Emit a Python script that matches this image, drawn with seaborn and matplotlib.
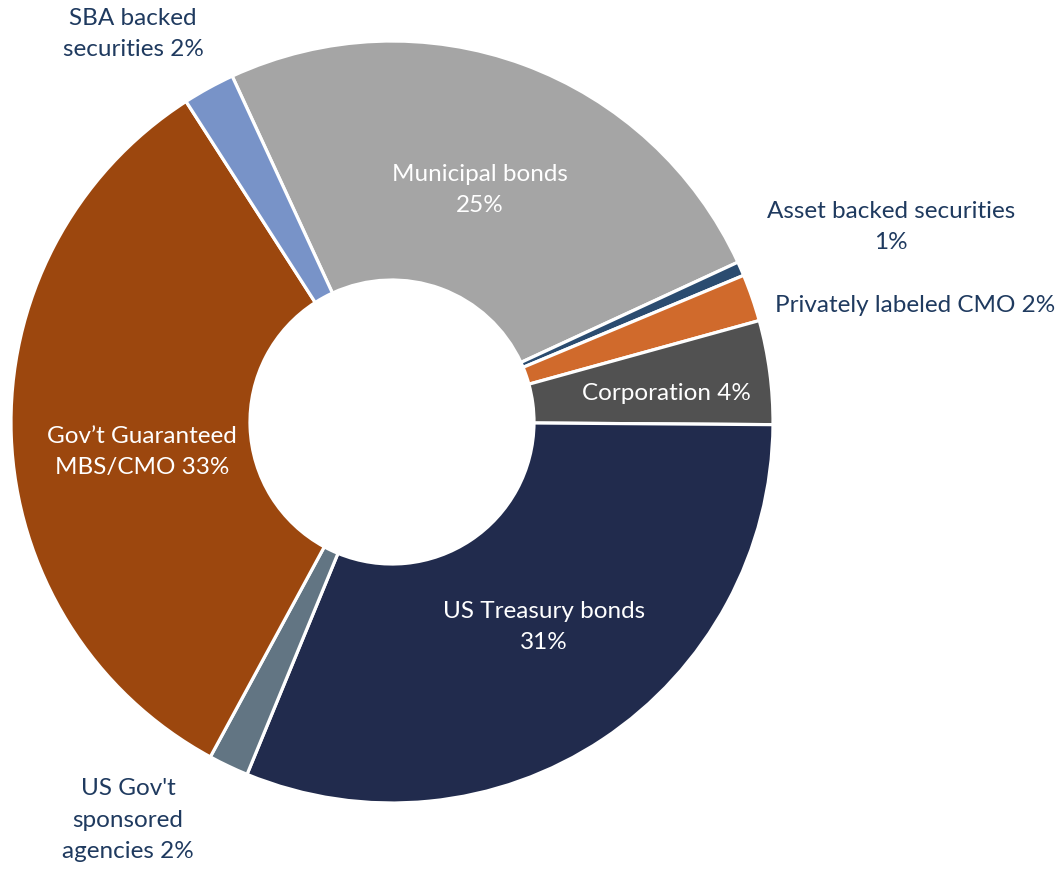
import matplotlib
matplotlib.use("Agg")
import matplotlib.pyplot as plt
import seaborn as sns

sns.set_theme(style="white")
plt.rcParams['font.family'] = ['Lato', 'DejaVu Sans']

# Portfolio mix, clockwise from the top-left edge of Municipal bonds
categories = ['Municipal bonds', 'Asset backed securities', 'Privately labeled CMO',
              'Corporation', 'US Treasury bonds', "US Gov't sponsored agencies",
              'Gov\u2019t Guaranteed MBS/CMO', 'SBA backed securities']
shares = [25.0, 0.6, 2.0, 4.4, 31.1, 1.7, 33.0, 2.2]
pct_labels = ['25%', '1%', '2%', '4%', '31%', '2%', '33%', '2%']
colors = ['#A5A5A5', '#2B4C70', '#D06A2C', '#515151', '#212B4D', '#627583', '#9C470E', '#7893C8']

# label text as shown on the chart
label_text = ['Municipal bonds\n25%', 'Asset backed securities\n1%', 'Privately labeled CMO 2%',
              'Corporation 4%', 'US Treasury bonds\n31%', "US Gov't\nsponsored\nagencies 2%",
              'Gov\u2019t Guaranteed\nMBS/CMO 33%', 'SBA backed\nsecurities 2%']

W, H = 1063, 869
cx, cy, R = 392, 422, 381

fig = plt.figure(figsize=(W / 100, H / 100), dpi=100)
ax = fig.add_axes([0, 0, 1, 1])

wedges, _ = ax.pie(shares, colors=colors, startangle=114.8, counterclock=False,
                   radius=1, wedgeprops=dict(width=1 - 142 / R, edgecolor='white', linewidth=2.3))

ax.set_xlim(-cx / R, (W - cx) / R)
ax.set_ylim(-(H - cy) / R, cy / R)
ax.set_aspect('equal')
ax.axis('off')

# label positions in pixels of the original chart, converted to data units
label_px = [(480, 190), (891, 227), (915, 305), (666, 393),
            (544, 627), (128, 820), (142, 452), (133, 34)]
inside = [True, False, False, True, True, False, True, False]

for txt, (px, py), inn in zip(label_text, label_px, inside):
    ax.text((px - cx) / R, (cy - py) / R, txt, ha='center', va='center',
            fontsize=17.5, color='white' if inn else '#1F3A5F',
            linespacing=1.6)

fig.savefig('out.png', dpi=100)
